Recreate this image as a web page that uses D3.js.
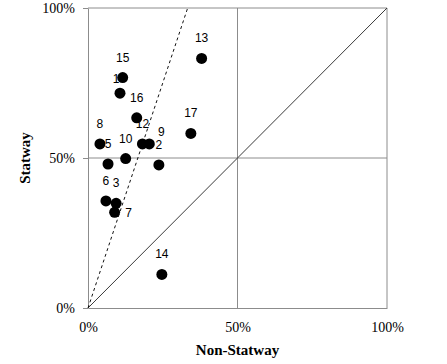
<!DOCTYPE html>
<html>
<head>
<meta charset="utf-8">
<script src="https://cdn.jsdelivr.net/npm/d3@7"></script>
<style>
  body { margin: 0; background: #fff; }
  svg { display: block; }
</style>
</head>
<body>
<svg id="chart"></svg>
<script>
// point ids and values (share of students)
var ids        = ["1", "2", "3", "5", "6", "7", "8", "9", "10", "12", "13", "14", "15", "16", "17"];
var nonStatway = [0.107, 0.237, 0.094, 0.067, 0.060, 0.089, 0.040, 0.205, 0.126, 0.182, 0.380, 0.247, 0.116, 0.163, 0.344];
var statway    = [0.716, 0.477, 0.349, 0.480, 0.357, 0.319, 0.547, 0.547, 0.498, 0.547, 0.832, 0.112, 0.768, 0.634, 0.582];
var tickValues = [0, 0.5, 1];
var tickLabels = ["0%", "50%", "100%"];
// reference lines: y = x and y = 3x
var refSlopes  = [1, 3];

var width = 447, height = 364;
var margin = {top: 8, right: 60, bottom: 56, left: 88};

var svg = d3.select("#chart")
    .attr("width", width)
    .attr("height", height);

var x = d3.scaleLinear().domain([0, 1]).range([margin.left, width - margin.right]);
var y = d3.scaleLinear().domain([0, 1]).range([height - margin.bottom, margin.top]);

// gridlines at 50% and 100%
svg.selectAll(".vgrid")
    .data(tickValues.slice(1))
  .enter().append("line")
    .attr("x1", d => x(d)).attr("x2", d => x(d))
    .attr("y1", y(0)).attr("y2", y(1))
    .attr("stroke", "#8c8c8c").attr("stroke-width", 1);

svg.selectAll(".hgrid")
    .data(tickValues.slice(1))
  .enter().append("line")
    .attr("x1", x(0)).attr("x2", x(1))
    .attr("y1", d => y(d)).attr("y2", d => y(d))
    .attr("stroke", "#8c8c8c").attr("stroke-width", 1);

// axes
var yAxis = d3.axisLeft(y).tickValues(tickValues).tickFormat((d, i) => tickLabels[i])
    .tickSizeInner(5).tickSizeOuter(0).tickPadding(8);
var xAxis = d3.axisBottom(x).tickValues(tickValues).tickFormat((d, i) => tickLabels[i])
    .tickSizeInner(0).tickSizeOuter(0).tickPadding(14);

var gy = svg.append("g").attr("transform", "translate(" + x(0) + ",0)").call(yAxis);
var gx = svg.append("g").attr("transform", "translate(0," + y(0) + ")").call(xAxis);

[gx, gy].forEach(g => {
  g.select(".domain").attr("stroke", "#8c8c8c");
  g.selectAll(".tick line").attr("stroke", "#8c8c8c");
  g.selectAll(".tick text")
      .attr("fill", "#000")
      .style("font-family", "'Liberation Serif', 'Times New Roman', serif")
      .style("font-size", "14px");
});

// reference lines from origin, clipped at the top of the plot
svg.selectAll(".ref")
    .data(refSlopes)
  .enter().append("line")
    .attr("x1", x(0)).attr("y1", y(0))
    .attr("x2", d => x(1 / d)).attr("y2", y(1))
    .attr("stroke", d => d === 1 ? "#3a3a3a" : "#111")
    .attr("stroke-width", 1)
    .attr("stroke-dasharray", d => d === 1 ? null : "3,3");

// points
var points = ids.map((id, i) => ({id: id, x: nonStatway[i], y: statway[i]}));

svg.selectAll(".dot")
    .data(points)
  .enter().append("circle")
    .attr("cx", d => x(d.x))
    .attr("cy", d => y(d.y))
    .attr("r", 5.5)
    .attr("fill", "#000");

// label nudges for the few labels that were moved off the default "above"
var nudge = {"1": [-4, -14], "9": [12, -12], "7": [14, 1]};

svg.selectAll(".lbl")
    .data(points)
  .enter().append("text")
    .attr("x", d => x(d.x) + (nudge[d.id] ? nudge[d.id][0] : 0))
    .attr("y", d => y(d.y) + (nudge[d.id] ? nudge[d.id][1] : -20))
    .attr("text-anchor", "middle")
    .attr("dominant-baseline", "central")
    .style("font-family", "'Liberation Sans', Arial, sans-serif")
    .style("font-size", "12px")
    .text(d => d.id);

// axis titles
svg.append("text")
    .attr("x", x(0.5))
    .attr("y", 355)
    .attr("text-anchor", "middle")
    .style("font-family", "'Liberation Serif', 'Times New Roman', serif")
    .style("font-size", "15px")
    .style("font-weight", "bold")
    .text("Non-Statway");

svg.append("text")
    .attr("transform", "translate(30," + y(0.5) + ") rotate(-90)")
    .attr("text-anchor", "middle")
    .style("font-family", "'Liberation Serif', 'Times New Roman', serif")
    .style("font-size", "15px")
    .style("font-weight", "bold")
    .text("Statway");
</script>
</body>
</html>
